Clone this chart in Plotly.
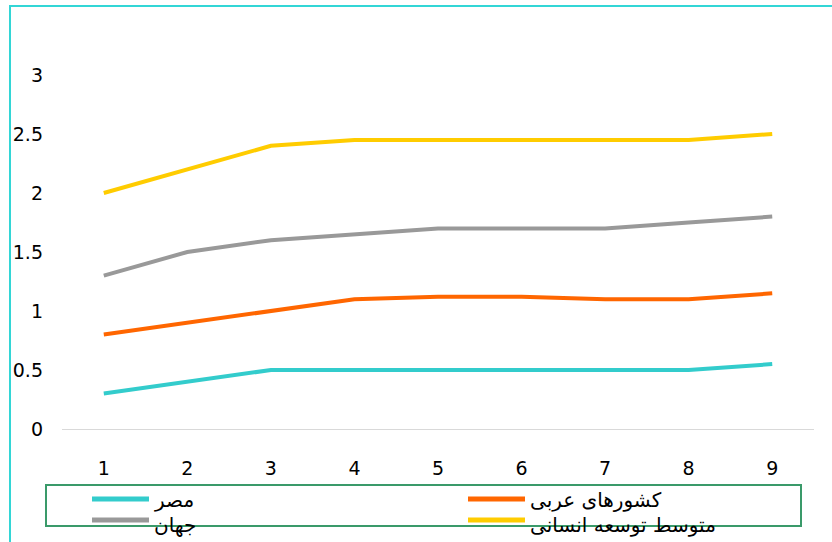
import plotly.graph_objects as go

x_vals = [1, 2, 3, 4, 5, 6, 7, 8, 9]
egypt = [0.3, 0.4, 0.5, 0.5, 0.5, 0.5, 0.5, 0.5, 0.55]
arab = [0.8, 0.9, 1.0, 1.1, 1.12, 1.12, 1.1, 1.1, 1.15]
world = [1.3, 1.5, 1.6, 1.65, 1.7, 1.7, 1.7, 1.75, 1.8]
medium = [2.0, 2.2, 2.4, 2.45, 2.45, 2.45, 2.45, 2.45, 2.5]
names = ["مصر", "کشورهای عربی", "جهان", "متوسط توسعه انسانی"]
colors = ["#33CCCC", "#FF6600", "#999999", "#FFCC00"]
y_ticks = [0, 0.5, 1, 1.5, 2, 2.5, 3]

fig = go.Figure()
for name, ys, c in zip(names, [egypt, arab, world, medium], colors):
    fig.add_trace(go.Scatter(x=x_vals, y=ys, name=name, mode="lines",
                             line=dict(color=c, width=4), showlegend=False))

W, H = 832, 542
ml, mr, mt, mb = 62, 18, 16, 113
pw, ph = W - ml - mr, H - mt - mb

def px(xp):
    return (xp - ml) / pw

def py(yp):
    return (H - mb - yp) / ph

shapes = [
    # outer frame
    dict(type="rect", xref="paper", yref="paper",
         x0=px(10), x1=px(900), y0=py(700), y1=py(6),
         line=dict(color="#33D6D6", width=2), fillcolor="rgba(0,0,0,0)",
         layer="below"),
    # legend box
    dict(type="rect", xref="paper", yref="paper",
         x0=px(46), x1=px(801), y0=py(526), y1=py(485),
         line=dict(color="#3A9A6A", width=2), fillcolor="rgba(0,0,0,0)"),
]
annotations = []
legend_pos = [(92, 499, 500), (468, 499, 500), (92, 520, 525), (468, 520, 525)]
for name, c, (lx, ly, ty) in zip(names, colors, legend_pos):
    shapes.append(dict(type="line", xref="paper", yref="paper",
                       x0=px(lx), x1=px(lx + 57), y0=py(ly), y1=py(ly),
                       line=dict(color=c, width=5)))
    annotations.append(dict(xref="paper", yref="paper", x=px(lx + 60), y=py(ty),
                            xanchor="left", yanchor="middle", showarrow=False,
                            text=name, font=dict(family="DejaVu Sans", size=20,
                                                 color="#000000")))

fig.update_layout(
    width=W, height=H,
    margin=dict(l=ml, r=mr, t=mt, b=mb, autoexpand=False),
    paper_bgcolor="white", plot_bgcolor="white",
    font=dict(family="DejaVu Sans", size=18, color="#000000"),
    showlegend=False,
    xaxis=dict(range=[0.5, 9.5], tickvals=x_vals, showgrid=False, zeroline=False,
               showline=True, linecolor="#D9D9D9", linewidth=1, ticks="",
               ticklabelstandoff=22, tickfont=dict(family="DejaVu Sans", size=19)),
    yaxis=dict(range=[0, 3.5], tickvals=y_ticks, ticktext=[str(v) for v in y_ticks],
               showgrid=False, zeroline=False, showline=False, ticks="",
               ticklabelstandoff=18, tickfont=dict(family="DejaVu Sans", size=19)),
    shapes=shapes,
    annotations=annotations,
)

fig.write_html("out.html", config={"displayModeBar": False},
               post_script="document.body.style.margin='0';document.body.style.overflow='hidden';")
